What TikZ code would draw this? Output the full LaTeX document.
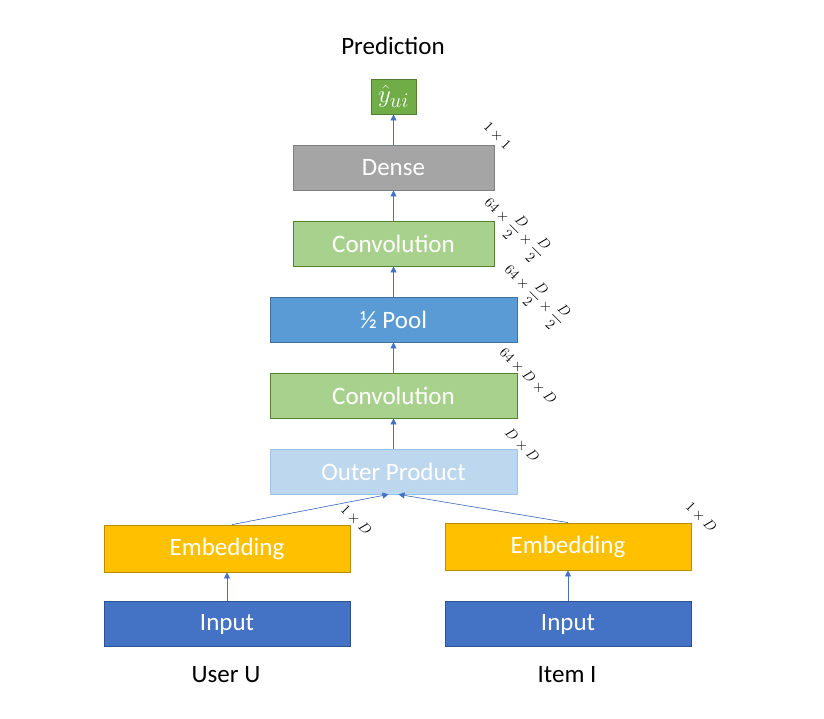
\documentclass[tikz,border=0pt]{standalone}
\usepackage{amsmath,amssymb}
\usepackage{fontspec}
\setmainfont{Carlito}
\usepackage{tikz}
\usetikzlibrary{arrows.meta,positioning,calc}
\usepackage{xcolor}
\definecolor{inputcolor}{HTML}{4472C4}
\definecolor{inputborder}{HTML}{2F528F}
\definecolor{embedcolor}{HTML}{FFC000}
\definecolor{embedborder}{HTML}{BC8C00}
\definecolor{outercolor}{HTML}{BDD7EE}
\definecolor{outerborder}{HTML}{9DC3E6}
\definecolor{convcolor}{HTML}{A9D18E}
\definecolor{convborder}{HTML}{548235}
\definecolor{poolcolor}{HTML}{5B9BD5}
\definecolor{poolborder}{HTML}{41719C}
\definecolor{densecolor}{HTML}{A5A5A5}
\definecolor{denseborder}{HTML}{7F7F7F}
\definecolor{predcolor}{HTML}{70AD47}
\definecolor{predborder}{HTML}{507E32}

\begin{document}
\begin{tikzpicture}[
    x=1pt, y=-1pt,
    box/.style={rectangle, draw, line width=0.8pt, minimum height=45pt, align=center, text=white, font=\fontsize{25}{30}\selectfont, inner sep=0pt},
    dim/.style={rotate=-45, font=\fontsize{14.5}{17}\selectfont, inner sep=0pt},
    caption/.style={font=\fontsize{25}{30}\selectfont},
    flow/.style={-{Triangle[length=6pt,width=6pt]}, draw=inputcolor, fill=inputcolor, line width=0.6pt},
]
    \useasboundingbox (0,0) rectangle (824,718);

    % Inputs
    \node[box, fill=inputcolor, draw=inputborder, minimum width=246pt] (inU) at (227, 624) {Input};
    \node[box, fill=inputcolor, draw=inputborder, minimum width=246pt] (inI) at (568, 624) {Input};
    \node[caption] (userU) at (226, 675) {User U};
    \node[caption] (itemI) at (567, 675) {Item I};

    % Embeddings
    \node[box, fill=embedcolor, draw=embedborder, minimum width=246pt, minimum height=47pt] (embU) at (227, 548.5) {Embedding};
    \node[box, fill=embedcolor, draw=embedborder, minimum width=246pt, minimum height=47pt] (embI) at (568, 546.5) {Embedding};

    % Processing
    \node[box, fill=outercolor, draw=outerborder, minimum width=247pt] (outer) at (393.5, 471.5) {Outer Product};
    \node[box, fill=convcolor, draw=convborder, minimum width=247pt] (conv1) at (393.5, 395.5) {Convolution};
    \node[box, fill=poolcolor, draw=poolborder, minimum width=247pt] (pool) at (393.5, 319.5) {½ Pool};
    \node[box, fill=convcolor, draw=convborder, minimum width=201pt] (conv2) at (393.5, 243.5) {Convolution};
    \node[box, fill=densecolor, draw=denseborder, minimum width=201pt] (dense) at (393.5, 167.5) {Dense};

    % Prediction
    \node[box, fill=predcolor, draw=predborder, minimum width=45pt, minimum height=35pt, font=\fontsize{30}{34}\selectfont] (yhat) at (393.5, 96.5) {$\hat{y}_{ui}$};
    \node[caption] (pred) at (393, 46) {Prediction};

    % Shapes
    \node[dim] (d1) at (356, 520) {$1\times D$};
    \node[dim] (d2) at (701, 517) {$1\times D$};
    \node[dim] (d3) at (522, 445) {$D\times D$};
    \node[dim] (d4) at (528, 376) {$64\times D\times D$};
    \node[dim] (d5) at (535, 295) {$64\times\dfrac{D}{2}\times\dfrac{D}{2}$};
    \node[dim] (d6) at (515, 228) {$64\times\dfrac{D}{2}\times\dfrac{D}{2}$};
    \node[dim] (d7) at (497, 136) {$1\times1$};

    % Arrows
    \draw[flow] (inU) -- (embU);
    \draw[flow] (inI) -- (embI);
    \draw[flow] ([xshift=5pt]embU.north) -- ([xshift=-5pt]outer.south);
    \draw[flow] (embI.north) -- ([xshift=5pt]outer.south);
    \draw[flow] (outer) -- (conv1);
    \draw[flow] (conv1) -- (pool);
    \draw[flow] (pool) -- (conv2);
    \draw[flow] (conv2) -- (dense);
    \draw[flow] (dense) -- (yhat);
\end{tikzpicture}
\end{document}
